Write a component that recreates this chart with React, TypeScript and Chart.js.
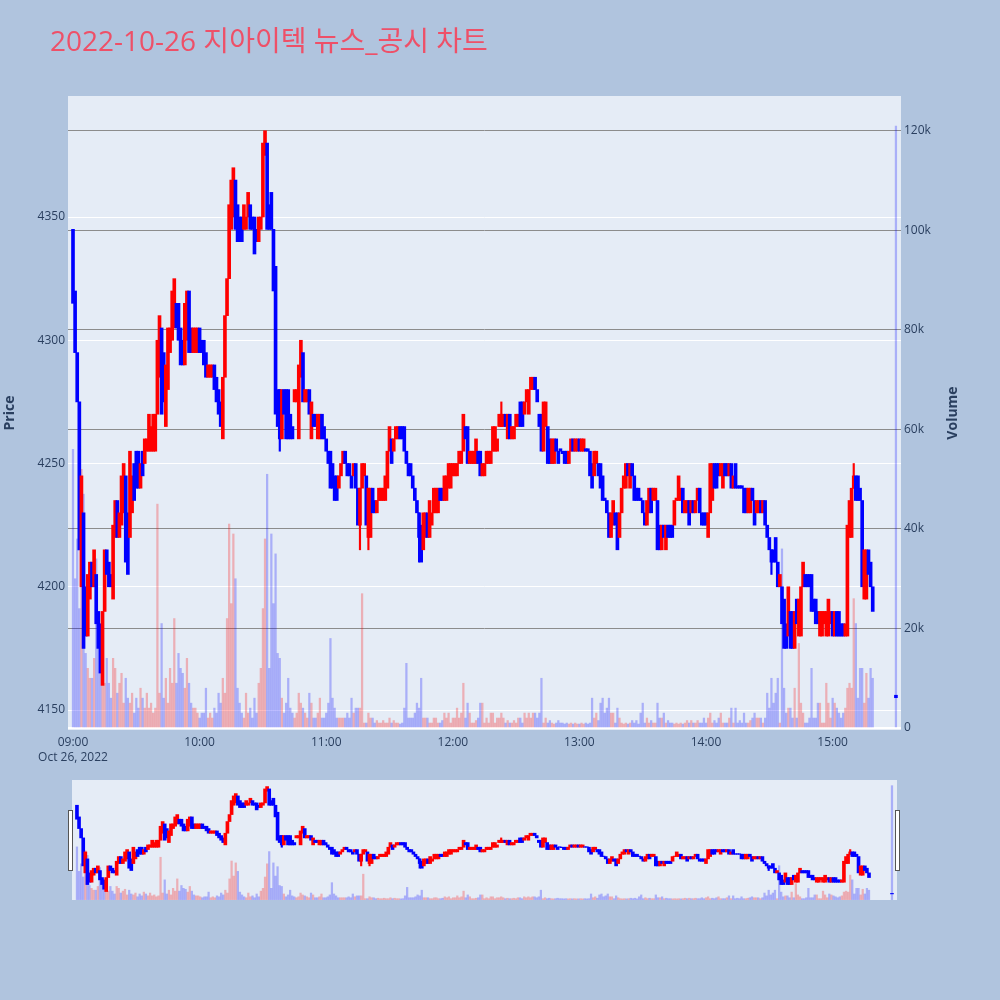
import React, { useEffect, useRef } from 'react';
import { Chart, registerables } from 'chart.js';

Chart.register(...registerables);

const TITLE = '2022-10-26 지아이텍 뉴스_공시 차트';
const PRICE_TITLE = 'Price';
const VOLUME_TITLE = 'Volume';
const DATE_LABEL = 'Oct 26, 2022';
const hourTicks = [0, 60, 120, 180, 240, 300, 360];
const hourLabels = ['09:00', '10:00', '11:00', '12:00', '13:00', '14:00', '15:00'];
const priceTicks = [4150, 4200, 4250, 4300, 4350];
const volumeTicks = [0, 20000, 40000, 60000, 80000, 100000, 120000];

// one candle per minute after 09:00 (index = minute), range
const lows = [
  4315, 4295, 4275, 4215, 4200, 4175, 4180, 4180, 4195, 4200,
  4200, 4185, 4175, 4165, 4160, 4190, 4205, 4200, 4200, 4195,
  4220, 4220, 4220, 4225, 4230, 4210, 4205, 4220, 4230, 4235,
  4240, 4240, 4240, 4245, 4250, 4255, 4255, 4255, 4255, 4255,
  4270, 4285, 4270, 4275, 4265, 4280, 4295, 4300, 4305, 4305,
  4300, 4290, 4290, 4290, 4300, 4295, 4295, 4295, 4295, 4295,
  4295, 4295, 4290, 4285, 4285, 4285, 4285, 4280, 4275, 4270,
  4265, 4260, 4285, 4310, 4325, 4345, 4350, 4345, 4340, 4340,
  4340, 4345, 4345, 4350, 4345, 4345, 4335, 4340, 4340, 4345,
  4350, 4375, 4345, 4345, 4345, 4320, 4270, 4265, 4260, 4260,
  4270, 4260, 4260, 4260, 4260, 4275, 4275, 4260, 4285, 4275,
  4275, 4275, 4270, 4260, 4265, 4265, 4260, 4260, 4260, 4260,
  4255, 4250, 4240, 4240, 4235, 4235, 4240, 4245, 4250, 4250,
  4245, 4245, 4240, 4245, 4240, 4225, 4225, 4240, 4245, 4225,
  4220, 4220, 4230, 4230, 4230, 4235, 4235, 4235, 4235, 4240,
  4255, 4250, 4255, 4260, 4260, 4260, 4260, 4255, 4250, 4245,
  4245, 4240, 4235, 4230, 4220, 4210, 4215, 4220, 4220, 4220,
  4225, 4230, 4230, 4230, 4235, 4235, 4235, 4235, 4240, 4240,
  4245, 4245, 4245, 4250, 4250, 4255, 4260, 4250, 4250, 4250,
  4250, 4250, 4250, 4245, 4245, 4245, 4250, 4250, 4250, 4255,
  4255, 4255, 4265, 4265, 4265, 4265, 4260, 4260, 4260, 4260,
  4265, 4265, 4265, 4265, 4270, 4275, 4270, 4280, 4280, 4280,
  4275, 4265, 4255, 4255, 4265, 4250, 4250, 4250, 4250, 4255,
  4250, 4255, 4254, 4250, 4250, 4250, 4255, 4255, 4255, 4255,
  4255, 4255, 4255, 4255, 4255, 4245, 4240, 4245, 4250, 4245,
  4240, 4235, 4235, 4230, 4220, 4220, 4225, 4225, 4215, 4220,
  4230, 4240, 4240, 4245, 4240, 4245, 4235, 4235, 4235, 4235,
  4230, 4225, 4225, 4230, 4230, 4235, 4235, 4215, 4215, 4215,
  4220, 4215, 4220, 4220, 4220, 4225, 4235, 4235, 4235, 4230,
  4230, 4230, 4225, 4230, 4230, 4230, 4235, 4230, 4225, 4225,
  4225, 4220, 4230, 4235, 4240, 4240, 4245, 4245, 4240, 4245,
  4245, 4245, 4240, 4240, 4240, 4240, 4240, 4240, 4230, 4230,
  4230, 4230, 4235, 4225, 4230, 4230, 4230, 4230, 4225, 4220,
  4215, 4210, 4210, 4210, 4200, 4200, 4185, 4175, 4175, 4180,
  4175, 4175, 4175, 4185, 4180, 4180, 4200, 4200, 4200, 4200,
  4190, 4190, 4185, 4185, 4180, 4180, 4185, 4180, 4180, 4185,
  4180, 4180, 4180, 4180, 4180, 4180, 4180, 4180, 4220, 4220,
  4240, 4235, 4235, 4235, 4200, 4195, 4195, 4205, 4200, 4190,
];
const highs = [
  4345, 4320, 4295, 4275, 4245, 4230, 4200, 4205, 4210, 4210,
  4215, 4205, 4190, 4185, 4190, 4215, 4215, 4210, 4205, 4225,
  4235, 4235, 4230, 4245, 4250, 4245, 4230, 4255, 4245, 4250,
  4255, 4255, 4250, 4255, 4260, 4260, 4270, 4265, 4270, 4270,
  4300, 4310, 4305, 4295, 4290, 4305, 4305, 4320, 4325, 4315,
  4315, 4305, 4300, 4315, 4320, 4320, 4305, 4305, 4305, 4305,
  4305, 4300, 4300, 4295, 4290, 4290, 4290, 4290, 4285, 4280,
  4275, 4285, 4310, 4325, 4355, 4365, 4370, 4365, 4355, 4350,
  4350, 4355, 4350, 4360, 4355, 4350, 4350, 4345, 4350, 4350,
  4380, 4385, 4380, 4355, 4360, 4345, 4330, 4280, 4280, 4280,
  4280, 4280, 4280, 4270, 4265, 4280, 4280, 4290, 4300, 4295,
  4280, 4280, 4280, 4275, 4270, 4270, 4270, 4270, 4270, 4265,
  4260, 4255, 4255, 4250, 4245, 4245, 4245, 4250, 4255, 4255,
  4250, 4250, 4245, 4250, 4250, 4240, 4240, 4250, 4250, 4245,
  4240, 4240, 4240, 4235, 4235, 4240, 4240, 4240, 4245, 4255,
  4265, 4260, 4260, 4265, 4265, 4265, 4265, 4265, 4255, 4250,
  4250, 4245, 4240, 4235, 4230, 4225, 4230, 4230, 4230, 4235,
  4230, 4240, 4240, 4240, 4240, 4240, 4245, 4245, 4250, 4250,
  4250, 4250, 4250, 4255, 4255, 4270, 4265, 4265, 4255, 4255,
  4255, 4260, 4255, 4255, 4250, 4250, 4255, 4255, 4255, 4265,
  4265, 4260, 4270, 4270, 4270, 4270, 4270, 4270, 4265, 4265,
  4270, 4270, 4275, 4275, 4275, 4280, 4280, 4285, 4285, 4285,
  4280, 4270, 4270, 4275, 4275, 4265, 4260, 4260, 4260, 4260,
  4255, 4256, 4255, 4255, 4255, 4255, 4260, 4260, 4260, 4260,
  4260, 4260, 4260, 4256, 4256, 4255, 4250, 4255, 4255, 4250,
  4250, 4245, 4236, 4235, 4230, 4230, 4235, 4230, 4230, 4230,
  4240, 4245, 4250, 4250, 4250, 4250, 4245, 4240, 4240, 4236,
  4235, 4230, 4235, 4240, 4240, 4240, 4240, 4235, 4225, 4225,
  4225, 4225, 4225, 4225, 4225, 4235, 4236, 4245, 4240, 4240,
  4235, 4235, 4235, 4235, 4235, 4235, 4240, 4240, 4230, 4230,
  4230, 4230, 4250, 4250, 4250, 4250, 4250, 4250, 4250, 4250,
  4250, 4250, 4250, 4245, 4250, 4241, 4241, 4241, 4240, 4240,
  4240, 4240, 4240, 4235, 4235, 4235, 4235, 4235, 4235, 4225,
  4220, 4215, 4215, 4220, 4210, 4205, 4200, 4195, 4185, 4200,
  4190, 4190, 4190, 4195, 4195, 4200, 4210, 4205, 4205, 4205,
  4205, 4195, 4195, 4190, 4190, 4190, 4190, 4190, 4195, 4190,
  4190, 4190, 4190, 4190, 4185, 4185, 4185, 4225, 4235, 4240,
  4245, 4245, 4245, 4240, 4235, 4215, 4215, 4215, 4210, 4200,
];
// R = rising (red), B = falling (blue)
const directions =
  'BBBBRBBRRB' + 'RBBBRRBBBR' + 'RBRRRBBRRB' + 'BBRBRRRRRR' + 'RRBBRRRRRB' +
  'BBBRRBBRRR' + 'BBBBRRRBBB' + 'BRRRRRRBBB' + 'BRRRBBBBRR' + 'RRBBBBBBBR' +
  'BBBBBRRRRB' + 'RRBRBBRRBB' + 'BBBBBBRRRB' + 'BBBRBBRRRB' + 'RRBBRRRRRR' +
  'RBRRRBBBBB' + 'BBBBBBRRBR' + 'RRRRBBRRRR' + 'RRRRRRBBRR' + 'RRBBRRRRRR' +
  'RRRRRBRBRR' + 'RRBBRRRRRB' + 'BBBRRBBRRB' + 'BBBBBRRBRR' + 'BRRBBBBRRB' +
  'BBBBBRRBBR' + 'RRRBRBBBBB' + 'BBRRBRRBBR' + 'BRBBBRRRRB' + 'RRBRBRRBBB' +
  'BRRRBBBRRB' + 'BRBRBBBBBB' + 'RRBBRRBRBB' + 'BBBBBRBBBR' + 'BBRBRRRBBB' +
  'BBBBRRRRRR' + 'BRBBBBRRRR' + 'RBBBBRRBBB';
// volume per minute, thousands of shares
const volumeK = [
  56, 30, 38, 24, 52, 47, 15, 12, 10, 10,
  14, 34, 16, 11, 12, 9, 14, 9, 6, 14,
  12, 7, 9, 11, 5, 10, 6, 5, 7, 3,
  6, 4, 8, 6, 4, 7, 4, 5, 3, 4,
  45, 7, 21, 6, 10, 5, 12, 9, 22, 9,
  15, 12, 11, 8, 14, 9, 5, 4, 4, 3,
  2, 3, 3, 8, 2, 3, 2, 4, 3, 7,
  5, 10, 7, 22, 41, 25, 39, 30, 8, 5,
  3, 2, 7, 3, 4, 2, 6, 3, 9, 12,
  24, 38, 51, 12, 39, 25, 35, 15, 14, 6,
  3, 5, 10, 4, 3, 2, 3, 7, 5, 4,
  3, 2, 7, 5, 2, 2, 3, 6, 2, 2,
  3, 5, 18, 6, 4, 2, 2, 2, 2, 2,
  3, 2, 6, 3, 4, 4, 4, 27, 1, 1,
  3, 2, 2, 1, 1.5, 1, 1, 1.5, 1, 1,
  2, 1, 1.5, 1, 1, 0.8, 1, 4, 13, 2,
  2, 2, 3, 5, 4, 10, 2, 2, 2, 1,
  1, 2, 2, 1, 1, 1.5, 3, 2, 3, 1,
  2, 2, 4, 2, 3, 9, 2, 5, 3, 1,
  1, 1.5, 2, 5, 5, 1, 2, 1, 3, 3,
  1, 2, 2, 3, 2, 1, 1.5, 1, 1, 1.5,
  1, 2, 2, 1, 3, 2, 3, 2, 3, 3,
  2, 3, 10, 1, 2, 1, 1.5, 1, 0.8, 1,
  1.5, 1, 1, 0.8, 1, 0.8, 1, 0.8, 1, 0.8,
  0.8, 1, 0.8, 1, 0.8, 1, 6, 2, 3, 1.5,
  5, 6, 3, 4, 6, 3, 3, 1, 4, 2,
  1, 0.8, 1, 0.8, 1, 1.5, 1, 1.5, 0.8, 3,
  5, 1, 2, 1, 1.5, 1, 1, 5, 2, 2,
  3, 1, 1.5, 1, 1, 0.8, 1, 0.8, 1, 0.8,
  1, 1.5, 1, 1.5, 1, 1, 1.5, 1, 1, 2,
  1, 2, 3, 1, 1.5, 1, 2, 3, 1, 1,
  1, 2, 4, 1, 4, 1, 1.5, 1, 3, 1,
  1, 1.5, 2, 3, 2, 2, 2, 1, 2, 7,
  4, 10, 5, 7, 10, 1, 36, 8, 3, 4,
  4, 2, 8, 2, 17, 5, 3, 1, 1, 2,
  12, 2, 2, 5, 5, 1, 1, 9, 5, 2,
  6, 5, 4, 3, 2, 3, 4, 8, 9, 8,
  26, 21, 6, 12, 12, 5, 11, 6, 12, 10,
];
// thin high-low whiskers that reach past the body
const wickMinutes = [98, 136, 140, 164, 203, 331, 370];
const wickLows = [4255, 4215, 4215, 4210, 4265, 4205, 4240];
const wickHighs = [4280, 4240, 4240, 4230, 4275, 4215, 4250];
// 15:30 closing auction
const auctionMinute = 390;
const auctionLow = 4155;
const auctionHigh = 4156;
const auctionVolumeK = 121;

const RED = '#ff0000';
const BLUE = '#0000ff';
const RED_VOL = 'rgba(255,0,0,0.26)';
const BLUE_VOL = 'rgba(0,0,255,0.26)';
const PLOT_BG = '#E5ECF6';
const PAGE_BG = '#B0C4DE';
const AXIS_COLOR = '#2a3f5f';
const FONT = "'Open Sans', 'Noto Sans CJK KR', sans-serif";

const X_MIN = -2.37;
const X_MAX = 392.4;
const P_MIN = 4141.9;
const P_MAX = 4399.1;
const V_MIN = -400;
const V_MAX = 127030;

function buildDatasets() {
  const dirs = directions.split('');
  const bodies = lows.map((lo, i) => ({ x: i, y: [lo, highs[i]] }));
  bodies.push({ x: auctionMinute, y: [auctionLow, auctionHigh] });
  const bodyColors = dirs.map((d) => (d === 'R' ? RED : BLUE));
  bodyColors.push(BLUE);
  const wicks = wickMinutes.map((m, i) => ({ x: m, y: [wickLows[i], wickHighs[i]] }));
  const wickColors = wickMinutes.map((m) => (dirs[m] === 'R' ? RED : BLUE));
  const vols = volumeK.map((v, i) => ({ x: i, y: v * 1000 }));
  vols.push({ x: auctionMinute, y: auctionVolumeK * 1000 });
  const volColors = dirs.map((d) => (d === 'R' ? RED_VOL : BLUE_VOL));
  volColors.push(BLUE_VOL);
  return [
    {
      label: 'candles',
      data: bodies,
      backgroundColor: bodyColors,
      barThickness: 3,
      grouped: false,
      xAxisID: 'x',
      yAxisID: 'y',
      order: 1,
    },
    {
      label: 'wicks',
      data: wicks,
      backgroundColor: wickColors,
      barThickness: 1.5,
      grouped: false,
      xAxisID: 'x',
      yAxisID: 'y',
      order: 2,
    },
    {
      label: 'volume',
      data: vols,
      backgroundColor: volColors,
      barThickness: 1.6,
      grouped: false,
      xAxisID: 'x',
      yAxisID: 'y1',
      order: 3,
    },
  ];
}

const plotBgPlugin = {
  id: 'plotBg',
  beforeDraw(chart: any) {
    const { ctx, chartArea } = chart;
    ctx.save();
    ctx.fillStyle = PLOT_BG;
    ctx.fillRect(chartArea.left, chartArea.top, chartArea.right - chartArea.left, chartArea.bottom - chartArea.top);
    ctx.restore();
  },
};

const mainTextPlugin = {
  id: 'mainText',
  afterDraw(chart: any) {
    const { ctx } = chart;
    ctx.save();
    ctx.fillStyle = '#EE5068';
    ctx.font = `28px ${FONT}`;
    ctx.textAlign = 'left';
    ctx.textBaseline = 'alphabetic';
    ctx.fillText(TITLE, 50, 51);
    ctx.fillStyle = AXIS_COLOR;
    ctx.font = `bold 14px ${FONT}`;
    ctx.translate(953, 413);
    ctx.rotate(-Math.PI / 2);
    ctx.textAlign = 'center';
    ctx.textBaseline = 'middle';
    ctx.fillText(VOLUME_TITLE, 0, 0);
    ctx.restore();
  },
};

const handlesPlugin = {
  id: 'handles',
  afterDraw(chart: any) {
    const { ctx, chartArea } = chart;
    ctx.save();
    ctx.fillStyle = '#ffffff';
    ctx.strokeStyle = '#555555';
    ctx.lineWidth = 1;
    const top = chartArea.top + 30.5;
    const h = 60;
    ctx.fillRect(chartArea.left - 3, top, 4, h);
    ctx.strokeRect(chartArea.left - 3.5, top, 4, h);
    ctx.fillRect(chartArea.right - 1, top, 4, h);
    ctx.strokeRect(chartArea.right - 1.5, top, 4, h);
    ctx.restore();
  },
};

export default function App() {
  const mainRef = useRef<HTMLCanvasElement>(null);
  const sliderRef = useRef<HTMLCanvasElement>(null);

  useEffect(() => {
    const tickFont = { family: FONT, size: 12, lineHeight: 1.25 };
    const main = new Chart(mainRef.current as HTMLCanvasElement, {
      type: 'bar',
      data: { datasets: buildDatasets() as any },
      plugins: [plotBgPlugin, mainTextPlugin],
      options: {
        animation: false,
        responsive: false,
        maintainAspectRatio: false,
        layout: { padding: { top: 96, left: 0, right: 0, bottom: 0 } },
        plugins: { legend: { display: false }, tooltip: { enabled: false }, title: { display: false } },
        scales: {
          x: {
            type: 'linear',
            offset: false,
            min: X_MIN,
            max: X_MAX,
            grid: { display: false, offset: false, drawTicks: false },
            border: { display: false },
            afterBuildTicks: (s: any) => {
              s.ticks = hourTicks.map((v) => ({ value: v }));
            },
            afterFit: (s: any) => {
              s.height = 40;
            },
            ticks: {
              autoSkip: false,
              maxRotation: 0,
              padding: 5,
              color: AXIS_COLOR,
              font: tickFont,
              callback: (_v: any, i: number) => (i === 0 ? [hourLabels[0], DATE_LABEL] : hourLabels[i]),
            },
          },
          y: {
            position: 'left',
            min: P_MIN,
            max: P_MAX,
            grid: { color: '#ffffff', lineWidth: 1, drawTicks: false },
            border: { display: false },
            afterBuildTicks: (s: any) => {
              s.ticks = priceTicks.map((v) => ({ value: v }));
            },
            afterFit: (s: any) => {
              s.width = 68;
            },
            ticks: { padding: 3, color: AXIS_COLOR, font: tickFont, callback: (v: any) => String(v) },
            title: {
              display: true,
              text: PRICE_TITLE,
              color: AXIS_COLOR,
              font: { family: FONT, size: 14, weight: 'bold' },
              padding: { top: 2, bottom: 0 },
            },
          },
          y1: {
            position: 'right',
            min: V_MIN,
            max: V_MAX,
            grid: {
              color: (c: any) => (c.tick && c.tick.value === 0 ? '#ffffff' : '#8c8c8c'),
              lineWidth: (c: any) => (c.tick && c.tick.value === 0 ? 2 : 1),
              drawTicks: false,
            },
            border: { display: false },
            afterBuildTicks: (s: any) => {
              s.ticks = volumeTicks.map((v) => ({ value: v }));
            },
            afterFit: (s: any) => {
              s.width = 99;
            },
            ticks: {
              padding: 3,
              color: AXIS_COLOR,
              font: tickFont,
              callback: (v: any) => (v === 0 ? '0' : `${Math.round(v / 1000)}k`),
            },
          },
        },
      } as any,
    });

    const slider = new Chart(sliderRef.current as HTMLCanvasElement, {
      type: 'bar',
      data: { datasets: buildDatasets() as any },
      plugins: [plotBgPlugin, handlesPlugin],
      options: {
        animation: false,
        responsive: false,
        maintainAspectRatio: false,
        layout: { padding: { top: 10, left: 72, right: 103, bottom: 10 } },
        plugins: { legend: { display: false }, tooltip: { enabled: false } },
        scales: {
          x: { type: 'linear', offset: false, min: X_MIN, max: X_MAX, display: false },
          y: { min: P_MIN, max: P_MAX, display: false },
          y1: { min: V_MIN, max: V_MAX, display: false },
        },
      } as any,
    });

    return () => {
      main.destroy();
      slider.destroy();
    };
  }, []);

  return (
    <div
      style={{
        position: 'fixed',
        left: 0,
        top: 0,
        width: 1000,
        height: 1000,
        background: PAGE_BG,
        overflow: 'hidden',
      }}
    >
      <canvas
        ref={mainRef}
        width={1000}
        height={770}
        style={{ position: 'absolute', left: 0, top: 0, width: 1000, height: 770 }}
      />
      <canvas
        ref={sliderRef}
        width={1000}
        height={140}
        style={{ position: 'absolute', left: 0, top: 770, width: 1000, height: 140 }}
      />
    </div>
  );
}
